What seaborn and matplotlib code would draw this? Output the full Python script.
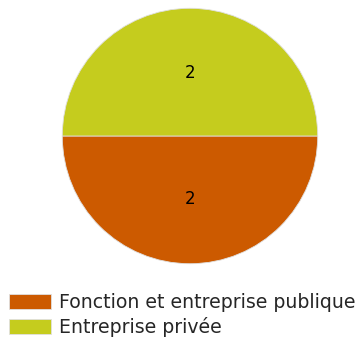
import matplotlib
matplotlib.use("Agg")
import matplotlib.pyplot as plt
import seaborn as sns

sns.set_style("white")
plt.rcParams['font.family'] = ['DejaVu Sans']

categories = ["Fonction et entreprise publique", "Entreprise privée"]
values = [2, 2]
colors = ["#CC5A00", "#C5CC1E"]

fig = plt.figure(figsize=(3.64, 3.45), dpi=100)
ax = fig.add_axes([61 / 364, 80 / 345, 258 / 364, 258 / 345])

wedges, texts, autotexts = ax.pie(
    values, colors=colors, startangle=180, counterclock=True,
    autopct=lambda p: "%d" % round(p * sum(values) / 100),
    pctdistance=0.49, radius=1,
    wedgeprops=dict(edgecolor="#e0e0e0", linewidth=0.6),
    textprops=dict(fontsize=12, color="black"))
ax.set_xlim(-1.01, 1.01)
ax.set_ylim(-1.01, 1.01)
ax.set_aspect("equal")
ax.axis("off")

fig.legend(wedges, categories, loc="upper left",
           bbox_to_anchor=(0.0, 1 - 284 / 345), frameon=False,
           fontsize=13.6, handlelength=2.2, handleheight=0.85,
           handletextpad=0.4, labelspacing=0.25, borderaxespad=0.3,
           borderpad=0.2)

fig.savefig("out.png", dpi=100)
